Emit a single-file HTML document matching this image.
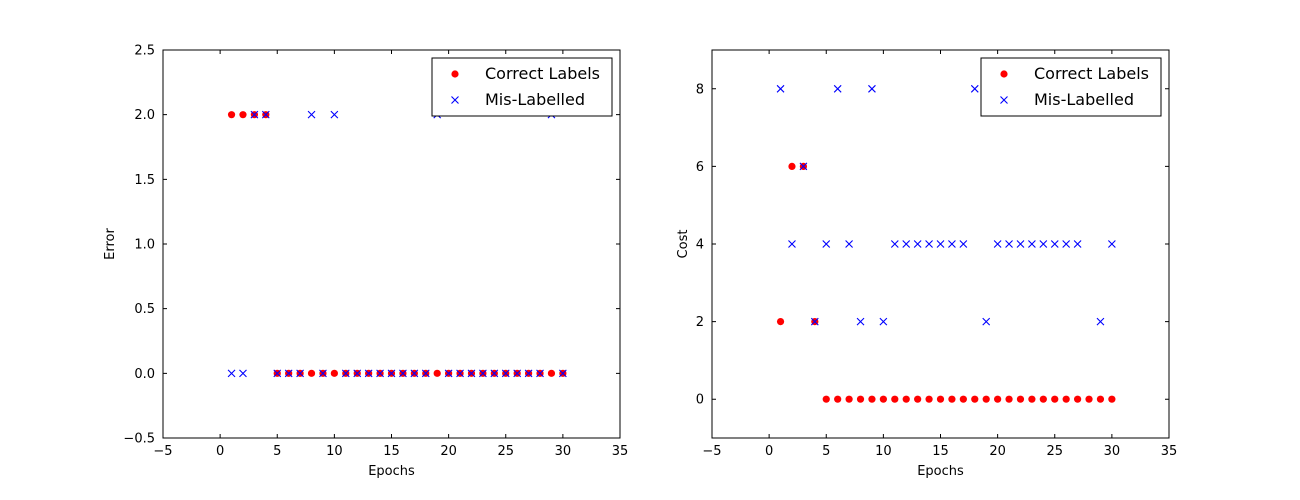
<!DOCTYPE html>
<html><head><meta charset="utf-8"><style>
html,body{margin:0;padding:0;background:#fff;}
svg{display:block;font-family:"DejaVu Sans","Liberation Sans",sans-serif;}
</style></head><body>
<svg id="chart" width="1300" height="500" viewBox="0 0 1300 500"></svg>
<script>
const epochs = [1,2,3,4,5,6,7,8,9,10,11,12,13,14,15,16,17,18,19,20,21,22,23,24,25,26,27,28,29,30];
const errorCorrect = [2,2,2,2,0,0,0,0,0,0,0,0,0,0,0,0,0,0,0,0,0,0,0,0,0,0,0,0,0,0];
const errorMis = [0,0,2,2,0,0,0,2,0,2,0,0,0,0,0,0,0,0,2,0,0,0,0,0,0,0,0,0,2,0];
const costCorrect = [2,6,6,2,0,0,0,0,0,0,0,0,0,0,0,0,0,0,0,0,0,0,0,0,0,0,0,0,0,0];
const costMis = [8,4,6,2,4,8,4,2,8,2,4,4,4,4,4,4,4,8,2,4,4,4,4,4,4,4,4,8,2,4];
const xTicks = [-5,0,5,10,15,20,25,30,35];
const errorTicks = [-0.5,0.0,0.5,1.0,1.5,2.0,2.5];
const errorTickLabels = ["\u22120.5","0.0","0.5","1.0","1.5","2.0","2.5"];
const costTicks = [0,2,4,6,8];
const costTickLabels = ["0","2","4","6","8"];

const NS="http://www.w3.org/2000/svg";
const svg=document.getElementById('chart');
function mk(tag,attrs,parent){const e=document.createElementNS(NS,tag);for(const k in attrs)e.setAttribute(k,attrs[k]);(parent||svg).appendChild(e);return e;}

function panel(cfg){
  const g=mk('g',{});
  
  
  const L=cfg.L,R=cfg.R,T=50,B=438;
  const sx=v=>L+(v-cfg.xmin)/(cfg.xmax-cfg.xmin)*(R-L);
  const sy=v=>B-(v-cfg.ymin)/(cfg.ymax-cfg.ymin)*(B-T);
  // points
  cfg.correct.forEach((v,i)=>{
    const c=mk('circle',{cx:sx(epochs[i]),cy:sy(v),r:3.6,fill:'#ff0000'},g);
    
    
  });
  cfg.mis.forEach((v,i)=>{
    const x=sx(epochs[i]),y=sy(v),s=3.5;
    const p=mk('path',{d:`M${x-s},${y-s}L${x+s},${y+s}M${x-s},${y+s}L${x+s},${y-s}`,stroke:'#0000ff','stroke-width':1.1,fill:'none'},g);
    
    
  });
  // frame
  mk('rect',{x:L,y:T,width:R-L,height:B-T,fill:'none',stroke:'#000','stroke-width':1},g);
  // x ticks
  xTicks.forEach(t=>{
    const x=sx(t);
    mk('path',{d:`M${x},${B}V${B-4}M${x},${T}V${T+4}`,stroke:'#000','stroke-width':1},g);
    const tx=mk('text',{x:x,y:B+17,'font-size':13,'text-anchor':'middle'},g);
    tx.textContent=t<0?'\u2212'+(-t):String(t);
    
    
  });
  cfg.yTicks.forEach((t,i)=>{
    const y=sy(t);
    mk('path',{d:`M${L},${y}H${L+4}M${R},${y}H${R-4}`,stroke:'#000','stroke-width':1},g);
    const tx=mk('text',{x:L-8,y:y+4.5,'font-size':13,'text-anchor':'end'},g);
    tx.textContent=cfg.yLabels[i];
    
    
  });
  const xl=mk('text',{x:(L+R)/2,y:475,'font-size':13,'text-anchor':'middle'},g);
  xl.textContent='Epochs';
  
  
  const yx=cfg.ylabelX, yy=(T+B)/2;
  const yl=mk('text',{x:yx,y:yy,'font-size':13,'text-anchor':'middle',transform:`rotate(-90 ${yx} ${yy})`},g);
  yl.textContent=cfg.ylabel;
  
  
  // legend
  const lg=mk('g',{},g);
  
  
  const lx=R-188, ly=58;
  mk('rect',{x:lx,y:ly,width:180,height:58,fill:'#fff',stroke:'#000','stroke-width':1},lg);
  mk('circle',{cx:lx+23,cy:ly+16,r:3.6,fill:'#ff0000'},lg);
  const t1=mk('text',{x:lx+53,y:ly+21,'font-size':16},lg);t1.textContent='Correct Labels';
  
  
  const mx=lx+23,my=ly+42,s=3.5;
  mk('path',{d:`M${mx-s},${my-s}L${mx+s},${my+s}M${mx-s},${my+s}L${mx+s},${my-s}`,stroke:'#0000ff','stroke-width':1.1},lg);
  const t2=mk('text',{x:lx+53,y:ly+47,'font-size':16},lg);t2.textContent='Mis-Labelled';
  
  
}
panel({name:'error-chart',L:163,R:620,xmin:-5,xmax:35,ymin:-0.5,ymax:2.5,correct:errorCorrect,mis:errorMis,yTicks:errorTicks,yLabels:errorTickLabels,ylabel:'Error',ylabelX:114});
panel({name:'cost-chart',L:712,R:1169,xmin:-5,xmax:35,ymin:-1,ymax:9,correct:costCorrect,mis:costMis,yTicks:costTicks,yLabels:costTickLabels,ylabel:'Cost',ylabelX:687});
</script>
</body></html>
